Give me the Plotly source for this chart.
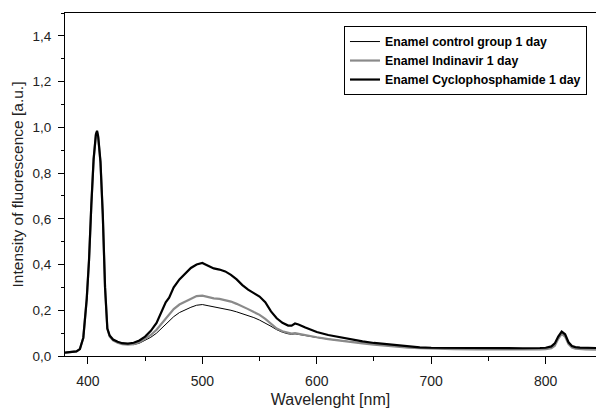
import plotly.graph_objects as go

wavelength = [380, 385, 390, 393, 396, 399, 401, 403, 405, 407, 408, 409, 411, 413, 415, 417, 419,
              422, 426, 430, 435, 440, 445, 450, 455, 460, 465, 468, 471, 475, 480, 485, 490, 495,
              500, 505, 510, 515, 520, 525, 530, 535, 540, 545, 550, 555, 560, 565, 570, 575, 578,
              581, 584, 590, 600, 610, 620, 630, 640, 650, 660, 670, 680, 690, 700, 720, 740, 760,
              780, 795, 800, 805, 808, 811, 814, 817, 820, 823, 826, 830, 835, 844]

control = [0.015, 0.016, 0.02, 0.03, 0.08, 0.25, 0.42, 0.66, 0.86, 0.965, 0.98, 0.955, 0.845, 0.62, 0.3, 0.12, 0.085,
           0.068, 0.058, 0.052, 0.05, 0.05, 0.056, 0.068, 0.082, 0.1, 0.125, 0.14, 0.152, 0.172, 0.19, 0.203, 0.213, 0.222,
           0.225, 0.22, 0.215, 0.212, 0.207, 0.2, 0.193, 0.185, 0.177, 0.168, 0.157, 0.145, 0.13, 0.115, 0.104, 0.097, 0.095,
           0.097, 0.095, 0.089, 0.081, 0.074, 0.067, 0.062, 0.056, 0.051, 0.046, 0.042, 0.038, 0.035, 0.033, 0.031, 0.03, 0.029,
           0.029, 0.03, 0.031, 0.035, 0.046, 0.076, 0.098, 0.086, 0.053, 0.038, 0.033, 0.031, 0.03, 0.029]

indinavir = [0.015, 0.016, 0.02, 0.03, 0.08, 0.25, 0.42, 0.66, 0.86, 0.965, 0.98, 0.955, 0.845, 0.62, 0.3, 0.12, 0.085,
             0.068, 0.058, 0.052, 0.05, 0.052, 0.06, 0.075, 0.092, 0.115, 0.145, 0.165, 0.18, 0.205, 0.225, 0.238, 0.252, 0.262,
             0.264, 0.258, 0.252, 0.25, 0.245, 0.238, 0.228, 0.218, 0.205, 0.192, 0.18, 0.162, 0.14, 0.12, 0.108, 0.1, 0.098,
             0.1, 0.097, 0.09, 0.082, 0.074, 0.067, 0.061, 0.055, 0.05, 0.045, 0.041, 0.037, 0.034, 0.032, 0.03, 0.029, 0.028,
             0.028, 0.029, 0.03, 0.034, 0.045, 0.075, 0.097, 0.085, 0.052, 0.037, 0.032, 0.03, 0.029, 0.028]

cyclophosphamide = [0.015, 0.016, 0.02, 0.03, 0.08, 0.25, 0.42, 0.66, 0.86, 0.97, 0.985, 0.96, 0.85, 0.62, 0.3, 0.12, 0.09,
                    0.072, 0.062, 0.056, 0.054, 0.058, 0.068, 0.085, 0.11, 0.145, 0.2, 0.235, 0.255, 0.3, 0.335, 0.36, 0.385, 0.4,
                    0.407, 0.395, 0.383, 0.378, 0.37, 0.355, 0.335, 0.31, 0.29, 0.275, 0.26, 0.235, 0.195, 0.165, 0.145, 0.133, 0.133,
                    0.142, 0.138, 0.125, 0.105, 0.092, 0.082, 0.072, 0.064, 0.057, 0.052, 0.046, 0.041, 0.038, 0.036, 0.035, 0.034, 0.034,
                    0.034, 0.035, 0.036, 0.042, 0.055, 0.085, 0.107, 0.095, 0.06, 0.044, 0.039, 0.037, 0.036, 0.035]

series_names = ["Enamel control group 1 day", "Enamel Indinavir 1 day", "Enamel Cyclophosphamide 1 day"]

x_ticks = [400, 500, 600, 700, 800]
y_ticks = [0.0, 0.2, 0.4, 0.6, 0.8, 1.0, 1.2, 1.4]

fig = go.Figure()
fig.add_trace(go.Scatter(x=wavelength, y=control, mode="lines", name=series_names[0],
                         line=dict(color="black", width=1)))
fig.add_trace(go.Scatter(x=wavelength, y=indinavir, mode="lines", name=series_names[1],
                         line=dict(color="#8a8a8a", width=2.2)))
fig.add_trace(go.Scatter(x=wavelength, y=cyclophosphamide, mode="lines", name=series_names[2],
                         line=dict(color="black", width=2.2)))

font_family = "Liberation Sans, Arial, sans-serif"

fig.update_layout(
    width=596, height=409,
    margin=dict(l=65, r=0, t=13, b=53, autoexpand=False),
    paper_bgcolor="white", plot_bgcolor="white",
    separators=", ",
    font=dict(family=font_family, size=12, color="#222"),
    showlegend=True,
    legend=dict(
        x=0.983, y=0.962, xanchor="right", yanchor="top",
        bordercolor="black", borderwidth=1, bgcolor="white",
        font=dict(family=font_family, size=12.3, color="black", weight="bold"),
        tracegroupgap=0, itemwidth=30,
    ),
    xaxis=dict(
        range=[380, 844], tickvals=x_ticks, ticks="outside", ticklen=7, tickwidth=1,
        showline=True, linecolor="black", linewidth=1, mirror=True, showgrid=False, zeroline=False,
        minor=dict(ticks="outside", ticklen=4, dtick=50, tick0=400, tickcolor="black"),
        tickcolor="black", automargin=False, ticklabelstandoff=5,
        title=dict(text="Wavelenght [nm]", font=dict(size=16), standoff=6),
        tickfont=dict(size=14),
    ),
    yaxis=dict(
        range=[0, 1.5], tickvals=y_ticks, tickformat=".1f", ticks="outside", ticklen=6, tickwidth=1,
        showline=True, linecolor="black", linewidth=1, mirror=False, showgrid=False, zeroline=False,
        minor=dict(ticks="outside", ticklen=3, dtick=0.1, tick0=0, tickcolor="black"),
        tickcolor="black", automargin=False, ticklabelstandoff=4,
        title=dict(text="Intensity of fluorescence [a.u.]", font=dict(size=15.5), standoff=5),
        tickfont=dict(size=13.5),
    ),
)

fig.write_html("out.html",
               config={"displayModeBar": False},
               post_script="document.body.style.margin='0';document.body.style.overflow='hidden';")
